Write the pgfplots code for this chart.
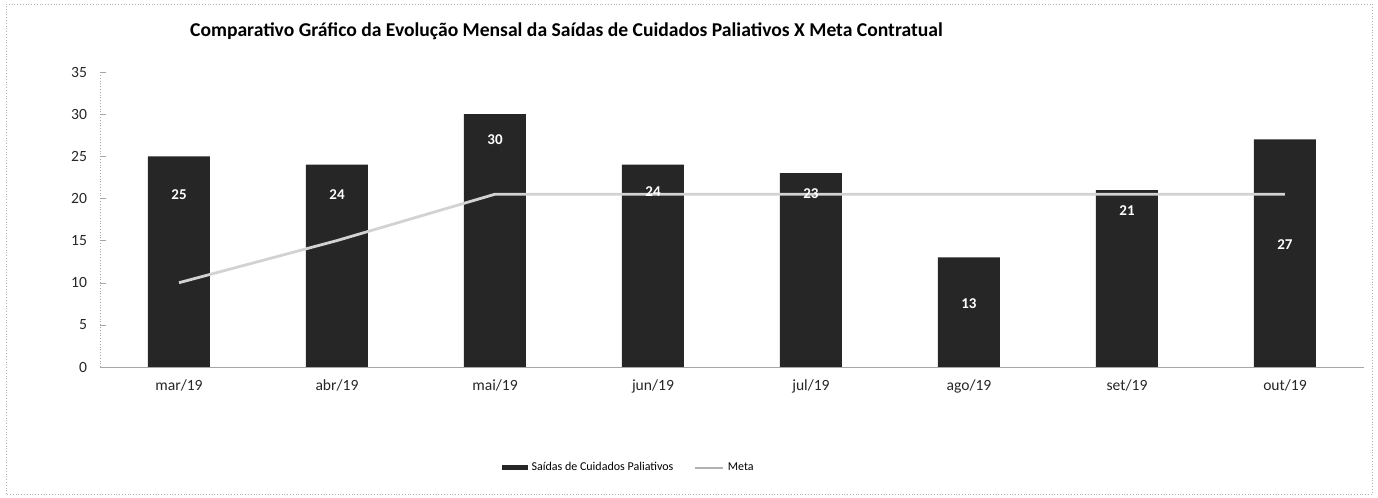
\documentclass[border=0pt]{standalone}
\usepackage{pgfplots}
\pgfplotsset{compat=1.18}
\usepackage{pgfplotstable}
\usepackage{fontspec}
\setmainfont{Carlito}

\pgfplotstableread{
x val laby meta
0 25 20.5 10
1 24 20.5 15
2 30 27.0 20.5
3 24 20.8 20.5
4 23 20.6 20.5
5 13 7.5 20.5
6 21 18.6 20.5
7 27 14.5 20.5
}\data

\begin{document}
\begin{tikzpicture}
\useasboundingbox (0,0) rectangle (689pt,249pt);
\draw[gray!60, densely dotted] (3pt,2pt) rectangle (686pt,247pt);
\begin{axis}[
  at={(50pt,65.5pt)}, anchor=south west,
  scale only axis, width=632pt, height=147.5pt,
  xmin=-0.5, xmax=7.5, ymin=0, ymax=35,
  ytick={0,5,...,35},
  xtick={0,...,7},
  xticklabels={mar/19,abr/19,mai/19,jun/19,jul/19,ago/19,set/19,out/19},
  axis x line*=bottom, axis y line*=left,
  x axis line style={gray!70, -},
  y axis line style={gray!70, densely dotted, -},
  xtick style={draw=none},
  ytick style={gray!70},
  major tick length=3pt,
  tick label style={font=\fontsize{7.8pt}{8.5pt}\selectfont, text=black!85},
  xticklabel style={yshift=-3pt},
  yticklabel style={xshift=-3pt},
  /pgf/number format/assume math mode=true,
  title={\textbf{Comparativo Gráfico da Evolução Mensal da Saídas de Cuidados Paliativos X Meta Contratual}},
  title style={at={(0.369,1.098)}, anchor=center, font=\fontsize{9.8pt}{11pt}\selectfont},
  legend style={at={(0.419,-0.342)}, anchor=center, draw=none, fill=none,
    legend columns=2, font=\fontsize{6pt}{7pt}\selectfont,
    /tikz/every even column/.append style={column sep=8pt}},
  clip=false,
]
\addplot[ybar, bar width=31pt, fill=black!85, draw=none,
  legend image code/.code={\fill[black!85] (0pt,-1.2pt) rectangle (13pt,1.2pt);}]
  table[x=x, y=val]{\data};
\addlegendentry{Saídas de Cuidados Paliativos}
\addplot[gray!35, line width=1.4pt, mark=none,
  legend image code/.code={\draw[gray!60, line width=1.2pt] (0pt,0pt) -- (14pt,0pt);}]
  table[x=x, y=meta]{\data};
\addlegendentry{Meta}
\addplot[draw=none, mark=none, forget plot,
  nodes near coords, point meta=explicit symbolic,
  nodes near coords align={center},
  every node near coord/.append style={text=white, font=\bfseries\fontsize{7.5pt}{8pt}\selectfont}]
  table[x=x, y=laby, meta=val]{\data};
\end{axis}
\end{tikzpicture}
\end{document}
